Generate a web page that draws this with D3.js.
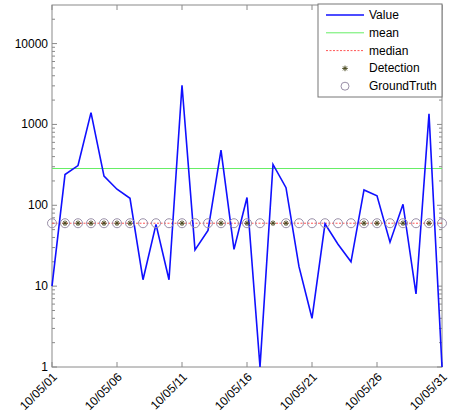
<!DOCTYPE html>
<html>
<head>
<meta charset="utf-8">
<script src="https://cdn.jsdelivr.net/npm/d3@7"></script>
<style>
  body { margin: 0; background: #fff; }
  text { font-family: Arial, "Liberation Sans", sans-serif; }
</style>
</head>
<body>
<svg id="chart" width="450" height="417"></svg>
<script>
// daily values 10/05/01 .. 10/05/31
const days = d3.range(1, 32)
const values = [10, 240, 310, 1400, 230, 158, 122, 12, 58, 12,
  3050, 28, 49, 480, 28.5, 125, 1, 320, 165, 17.4,
  4, 59, 33, 20, 155, 131, 35, 103, 8, 1350, 1]
const meanValue = 285
const medianValue = 60
const detectionDays = [2, 3, 4, 5, 6, 7, 11, 14, 16, 18, 19, 25, 26, 28, 30]
const groundTruthDays = days.filter(d => d !== 18)
const xTickDays = [1, 6, 11, 16, 21, 26, 31]
const yTicks = [1, 10, 100, 1000, 10000]
const legendItems = ['Value', 'mean', 'median', 'Detection', 'GroundTruth']

const margin = { top: 5, right: 8, bottom: 50, left: 52 }
const width = 450 - margin.left - margin.right
const height = 417 - margin.top - margin.bottom

const svg = d3.select('#chart')
const g = svg.append('g').attr('transform', `translate(${margin.left},${margin.top})`)

const x = d3.scaleLinear().domain([1, 31]).range([0, width])
const y = d3.scaleLog().domain([1, 30000]).range([height, 0])

const axisColor = '#8a8a8a'
const fmtDay = d => '10/05/' + String(d).padStart(2, '0')

// minor ticks for log axis
const minor = []
for (let p = 1; p <= 10000; p *= 10) {
  for (let k = 2; k <= 9; k++) if (p * k < 30000) minor.push(p * k)
}

// frame
g.append('rect')
  .attr('width', width).attr('height', height)
  .attr('fill', 'none').attr('stroke', axisColor).attr('stroke-width', 1)

// y ticks left and right
const yt = g.append('g').attr('stroke', axisColor).attr('stroke-width', 1)
yTicks.forEach(v => {
  yt.append('line').attr('x1', 0).attr('x2', 5).attr('y1', y(v)).attr('y2', y(v))
  yt.append('line').attr('x1', width).attr('x2', width - 5).attr('y1', y(v)).attr('y2', y(v))
})
minor.forEach(v => {
  yt.append('line').attr('x1', 0).attr('x2', 3).attr('y1', y(v)).attr('y2', y(v))
  yt.append('line').attr('x1', width).attr('x2', width - 3).attr('y1', y(v)).attr('y2', y(v))
})

g.append('g').selectAll('text')
  .data(yTicks)
  .join('text')
  .attr('x', -4).attr('y', d => y(d))
  .attr('text-anchor', 'end').attr('dominant-baseline', 'central')
  .attr('font-size', 12).attr('fill', '#000')
  .text(d => d)

// x ticks bottom and top
const xt = g.append('g').attr('stroke', axisColor).attr('stroke-width', 1)
xTickDays.forEach(d => {
  xt.append('line').attr('x1', x(d)).attr('x2', x(d)).attr('y1', height).attr('y2', height - 5)
  xt.append('line').attr('x1', x(d)).attr('x2', x(d)).attr('y1', 0).attr('y2', 5)
})

g.append('g').selectAll('text')
  .data(xTickDays)
  .join('text')
  .attr('transform', d => `translate(${x(d) + 3},${height + 8}) rotate(-45)`)
  .attr('text-anchor', 'end').attr('dominant-baseline', 'central')
  .attr('font-size', 12).attr('fill', '#000')
  .text(fmtDay)

const plot = g.append('g')

// mean & median
plot.append('line')
  .attr('x1', 0).attr('x2', width).attr('y1', y(meanValue)).attr('y2', y(meanValue))
  .attr('stroke', '#66ee66').attr('stroke-width', 1)
plot.append('line')
  .attr('x1', 0).attr('x2', width).attr('y1', y(medianValue)).attr('y2', y(medianValue))
  .attr('stroke', '#ff5555').attr('stroke-width', 1).attr('stroke-dasharray', '2,1.5')

// value line
const line = d3.line().x((d, i) => x(days[i])).y(d => y(d))
plot.append('path')
  .datum(values)
  .attr('d', line)
  .attr('fill', 'none').attr('stroke', '#1010ff').attr('stroke-width', 1.6)

function asterisk(sel, r) {
  sel.append('line').attr('x1', -r).attr('x2', r).attr('y1', 0).attr('y2', 0)
  sel.append('line').attr('x1', 0).attr('x2', 0).attr('y1', -r).attr('y2', r)
  const q = r * 0.7
  sel.append('line').attr('x1', -q).attr('x2', q).attr('y1', -q).attr('y2', q)
  sel.append('line').attr('x1', -q).attr('x2', q).attr('y1', q).attr('y2', -q)
}

// detection markers
plot.append('g').selectAll('g')
  .data(detectionDays)
  .join('g')
  .attr('transform', d => `translate(${x(d)},${y(medianValue)})`)
  .attr('stroke', '#4a4a20').attr('stroke-width', 1)
  .each(function () { asterisk(d3.select(this), 2.8) })

// ground truth markers
plot.append('g').selectAll('circle')
  .data(groundTruthDays)
  .join('circle')
  .attr('cx', d => x(d)).attr('cy', y(medianValue)).attr('r', 4.5)
  .attr('fill', 'none').attr('stroke', '#9a8fa8').attr('stroke-width', 1)

// legend
const lg = svg.append('g').attr('transform', 'translate(318,4)')
lg.append('rect')
  .attr('width', 124).attr('height', 93)
  .attr('fill', '#fff').attr('stroke', '#777').attr('stroke-width', 1)

const rows = lg.selectAll('g.row')
  .data(legendItems)
  .join('g')
  .attr('class', 'row')
  .attr('transform', (d, i) => `translate(0,${11 + i * 17.8})`)

rows.append('text')
  .attr('x', 51).attr('y', 0)
  .attr('dominant-baseline', 'central')
  .attr('font-size', 12).attr('fill', '#000')
  .text(d => d)

rows.each(function (d) {
  const r = d3.select(this)
  if (d === 'Value') {
    r.append('line').attr('x1', 8).attr('x2', 46).attr('stroke', '#1010ff').attr('stroke-width', 1.6)
  } else if (d === 'mean') {
    r.append('line').attr('x1', 8).attr('x2', 46).attr('stroke', '#66ee66').attr('stroke-width', 1)
  } else if (d === 'median') {
    r.append('line').attr('x1', 8).attr('x2', 46).attr('stroke', '#ff5555').attr('stroke-width', 1).attr('stroke-dasharray', '2,1.5')
  } else if (d === 'Detection') {
    const a = r.append('g').attr('transform', 'translate(27,0)').attr('stroke', '#4a4a20').attr('stroke-width', 1)
    asterisk(a, 2.8)
  } else {
    r.append('circle').attr('cx', 27).attr('cy', 0).attr('r', 4)
      .attr('fill', 'none').attr('stroke', '#9a8fa8').attr('stroke-width', 1)
  }
})
</script>
</body>
</html>
